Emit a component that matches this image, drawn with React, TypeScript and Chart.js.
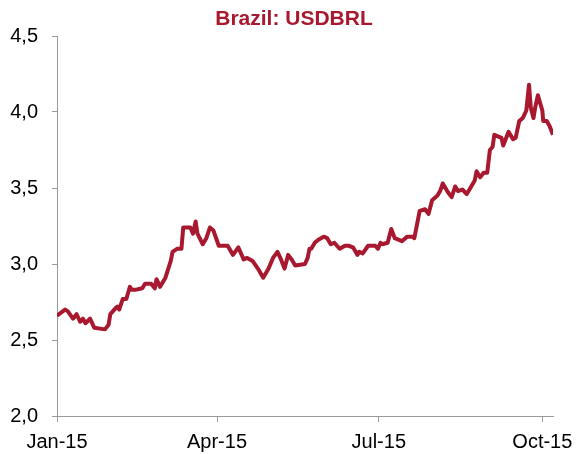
import React, { useEffect, useRef } from "react";
import { Chart, registerables } from "chart.js";

Chart.register(...registerables);

// Day offset from 1 Jan 2015
const days = [
  0, 4.5, 6, 9, 11, 13, 14.6, 16, 18.6, 21, 27, 29, 30, 33, 34, 35, 37, 39, 41, 42, 44, 48,
  49.5, 53, 55, 56, 58, 61, 64, 65, 67.5, 70, 71, 75, 76.5, 78, 79, 82, 84, 86, 88, 91, 96,
  99, 102, 105, 107, 110, 113, 116, 119, 121.5, 124, 126, 128, 130, 132, 134, 139.5, 141, 142, 143, 145,
  147, 150, 152, 154, 156, 159, 162, 164, 166.5, 169, 170, 172, 175, 179, 180.5, 182, 183, 186, 188, 190,
  192, 194, 197, 200, 201, 204, 207, 209, 211, 214, 215.5, 217, 220, 222, 224, 225.5, 228, 230.5, 233,
  235, 236, 238, 240, 242, 243.5, 245, 246, 250, 251, 254, 256.5, 258, 260, 262, 264, 265.5, 266.5,
  268, 269, 270.5, 273, 273.5, 275.5, 277, 279,
];
const usdbrl = [
  2.66, 2.7, 2.69, 2.64, 2.67, 2.62, 2.64, 2.61, 2.64, 2.58, 2.57, 2.6, 2.67, 2.71, 2.72, 2.7, 2.77, 2.77, 2.85, 2.83, 2.83, 2.84,
  2.87, 2.87, 2.84, 2.9, 2.85, 2.91, 3.02, 3.08, 3.1, 3.1, 3.24, 3.24, 3.2, 3.28, 3.2, 3.13, 3.17, 3.24, 3.22, 3.12, 3.12,
  3.06, 3.11, 3.03, 3.04, 3.02, 2.97, 2.91, 2.97, 3.04, 3.08, 3.03, 2.97, 3.06, 3.03, 2.99, 3.0, 3.04, 3.1, 3.1, 3.14,
  3.16, 3.18, 3.17, 3.13, 3.14, 3.1, 3.12, 3.12, 3.11, 3.06, 3.08, 3.07, 3.12, 3.12, 3.1, 3.14, 3.13, 3.14, 3.23, 3.17,
  3.16, 3.15, 3.18, 3.18, 3.17, 3.35, 3.36, 3.33, 3.42, 3.45, 3.48, 3.53, 3.47, 3.44, 3.51, 3.48, 3.49, 3.46, 3.51,
  3.55, 3.61, 3.57, 3.6, 3.6, 3.75, 3.77, 3.85, 3.83, 3.78, 3.87, 3.82, 3.83, 3.94, 3.96, 4.01, 4.18, 4.03,
  3.96, 4.03, 4.11, 4.01, 3.94, 3.94, 3.91, 3.85,
];
const tickDays = [0, 90, 181, 273];
const tickLabels = ["Jan-15", "Apr-15", "Jul-15", "Oct-15"];
const titleText = "Brazil: USDBRL";

const RED = "#A8182F";
const AXIS = "#9a9a9a";
const FONT = "'Liberation Sans', Arial, sans-serif";

const titlePlugin = {
  id: "customTitle",
  afterDraw(chart: any) {
    const c = chart.ctx;
    c.save();
    c.fillStyle = RED;
    c.font = `bold 21px ${FONT}`;
    c.textAlign = "center";
    c.textBaseline = "middle";
    c.fillText(titleText, 294, 19);
    c.restore();
  },
};

export default function App() {
  const ref = useRef<HTMLCanvasElement | null>(null);

  useEffect(() => {
    document.body.style.margin = "0";
    const ctx = ref.current!;
    const chart = new Chart(ctx, {
      type: "line",
      data: {
        datasets: [
          {
            data: days.map((d, i) => ({ x: d, y: usdbrl[i] })),
            borderColor: RED,
            borderWidth: 4,
            pointRadius: 0,
            tension: 0,
            fill: false,
            borderJoinStyle: "round",
          },
        ],
      },
      options: {
        animation: false,
        responsive: false,
        maintainAspectRatio: false,
        layout: { padding: { left: 0, right: 24, top: 36, bottom: 0 } },
        plugins: {
          legend: { display: false },
          tooltip: { enabled: false },
          title: { display: false },
        },
        scales: {
          x: {
            type: "linear",
            min: 0,
            max: 279,
            afterBuildTicks: (s: any) => {
              s.ticks = tickDays.map((v) => ({ value: v }));
            },
            afterFit: (s: any) => {
              s.height = 38;
              s.paddingLeft = 0;
              s.paddingRight = 0;
            },
            ticks: {
              autoSkip: false,
              maxRotation: 0,
              padding: 8,
              color: "#000",
              font: { family: FONT, size: 20 },
              callback: (v: any) => {
                const i = tickDays.indexOf(Number(v));
                return i >= 0 ? tickLabels[i] : "";
              },
            },
            grid: {
              display: true,
              drawOnChartArea: false,
              drawTicks: true,
              tickLength: 6,
              color: AXIS,
            },
            border: { display: true, color: AXIS, width: 1 },
          },
          y: {
            min: 2,
            max: 4.5,
            afterFit: (s: any) => {
              s.width = 57;
              s.paddingTop = 0;
              s.paddingBottom = 0;
            },
            ticks: {
              stepSize: 0.5,
              padding: 14,
              color: "#000",
              font: { family: FONT, size: 20 },
              callback: (v: any) => Number(v).toFixed(1).replace(".", ","),
            },
            grid: {
              display: true,
              drawOnChartArea: false,
              drawTicks: true,
              tickLength: 5,
              color: AXIS,
            },
            border: { display: true, color: AXIS, width: 1 },
          },
        },
      },
      plugins: [titlePlugin],
    });
    return () => chart.destroy();
  }, []);

  return (
    <div style={{ position: "absolute", left: 0, top: 0, width: 577, height: 454 }}>
      <canvas ref={ref} width={577} height={454} />
    </div>
  );
}
